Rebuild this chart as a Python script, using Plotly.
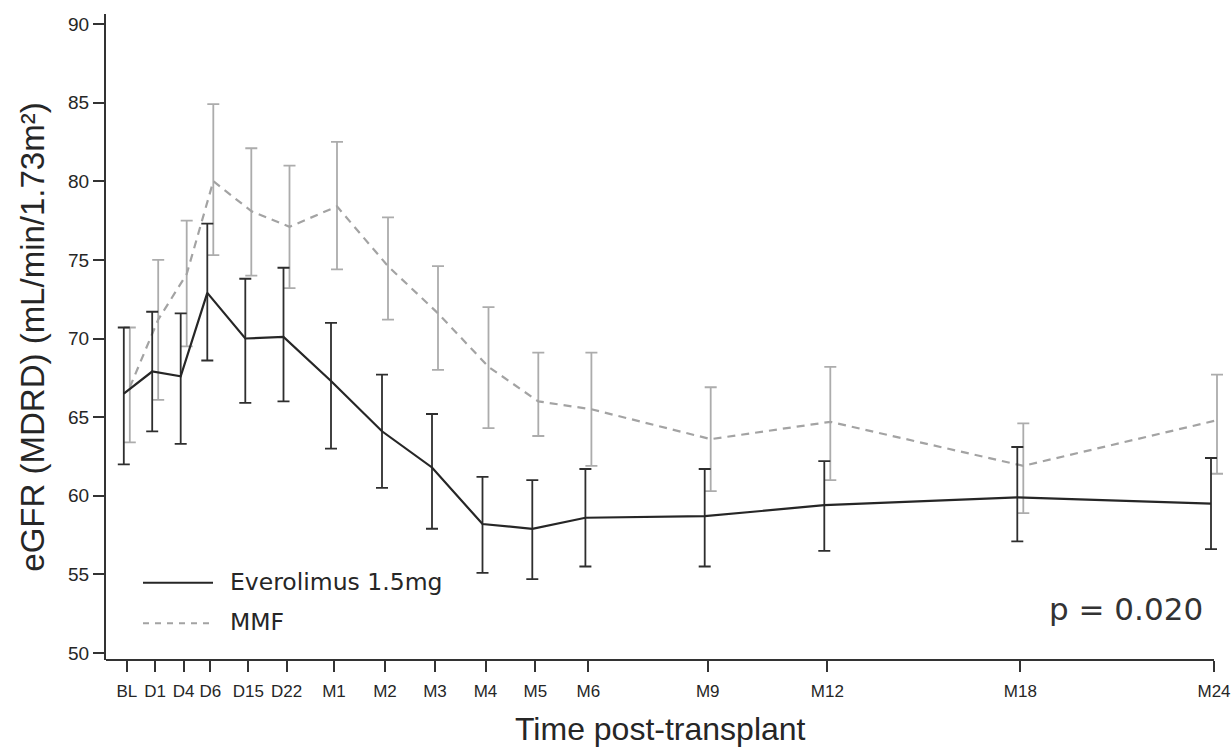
import plotly.graph_objects as go

# Visits on the time axis and their positions along it
visits = ["BL", "D1", "D4", "D6", "D15", "D22", "M1", "M2", "M3", "M4",
          "M5", "M6", "M9", "M12", "M18", "M24"]
visit_pos = [20.8, 49.2, 77.7, 104.3, 142.3, 180.5, 228, 279, 329, 379.5,
             429.3, 482.4, 601.7, 721.3, 914.3, 1108]

# Everolimus 1.5mg: mean eGFR with 95% CI bounds
evr_mean = [66.5, 67.9, 67.6, 72.9, 70.0, 70.1, 67.3, 64.1, 61.8, 58.2,
            57.9, 58.6, 58.7, 59.4, 59.9, 59.5]
evr_upper = [70.7, 71.7, 71.6, 77.3, 73.8, 74.5, 71.0, 67.7, 65.2, 61.2,
             61.0, 61.7, 61.7, 62.2, 63.1, 62.4]
evr_lower = [62.0, 64.1, 63.3, 68.6, 65.9, 66.0, 63.0, 60.5, 57.9, 55.1,
             54.7, 55.5, 55.5, 56.5, 57.1, 56.6]

# MMF: mean eGFR with 95% CI bounds
mmf_mean = [66.9, 71.2, 74.1, 80.0, 78.1, 77.1, 78.4, 74.6, 71.6, 68.2,
            66.0, 65.5, 63.6, 64.7, 61.9, 64.8]
mmf_upper = [70.7, 75.0, 77.5, 84.9, 82.1, 81.0, 82.5, 77.7, 74.6, 72.0,
             69.1, 69.1, 66.9, 68.2, 64.6, 67.7]
mmf_lower = [63.4, 66.1, 69.5, 75.3, 74.0, 73.2, 74.4, 71.2, 68.0, 64.3,
             63.8, 61.9, 60.3, 61.0, 58.9, 61.4]

p_text = "p = 0.020"
series_names = ["Everolimus 1.5mg", "MMF"]
x_title = "Time post-transplant"
y_title = "eGFR (MDRD) (mL/min/1.73m²)"

FONT = "Arial, 'Liberation Sans', Helvetica, sans-serif"
WIDE = "'DejaVu Sans', Arial, sans-serif"
DARK = "#262626"
GREY = "#a3a3a3"
AXIS = "#333333"
SHIFT = 3  # small horizontal dodge between the two groups
X_END = visit_pos[-1]   # the time axis line stops at the last visit
X_MAX = X_END + 14      # a little room on the right for the last bars

def err(mean, hi, lo):
    return dict(type="data", symmetric=False,
                array=[h - m for h, m in zip(hi, mean)],
                arrayminus=[m - l for m, l in zip(mean, lo)])

fig = go.Figure()

fig.add_trace(go.Scatter(
    x=[p + SHIFT for p in visit_pos], y=mmf_mean, mode="lines",
    name=series_names[1],
    line=dict(color=GREY, width=2.2, dash="8px,6px"),
    error_y=dict(**err(mmf_mean, mmf_upper, mmf_lower),
                 color="#acacac", thickness=1.8, width=6),
))
fig.add_trace(go.Scatter(
    x=[p - SHIFT for p in visit_pos], y=evr_mean, mode="lines",
    name=series_names[0],
    line=dict(color=DARK, width=2.2),
    error_y=dict(**err(evr_mean, evr_upper, evr_lower),
                 color="#2e2e2e", thickness=1.8, width=6),
))

# Plot box in pixels
L, T, H = 106, 14, 646
W = X_MAX
px = lambda v: (v - L) / W
py = lambda v: (T + H - v) / H

shapes = [
    # time axis line, ending at the last visit tick
    dict(type="line", xref="x", yref="paper", x0=-1, x1=X_END, y0=0, y1=0,
         line=dict(color=AXIS, width=2)),
    # legend samples
    dict(type="line", xref="paper", yref="paper", x0=px(143), x1=px(213),
         y0=py(582.7), y1=py(582.7), line=dict(color=DARK, width=2)),
    dict(type="line", xref="paper", yref="paper", x0=px(143), x1=px(213),
         y0=py(623.3), y1=py(623.3), line=dict(color=GREY, width=2, dash="6px,6px")),
]
annotations = [
    dict(xref="paper", yref="paper", x=px(228), y=py(582), xanchor="left",
         yanchor="middle", text=series_names[0], showarrow=False,
         font=dict(family=WIDE, size=23.5, color=DARK)),
    dict(xref="paper", yref="paper", x=px(228), y=py(622), xanchor="left",
         yanchor="middle", text=series_names[1], showarrow=False,
         font=dict(family=WIDE, size=23.5, color=DARK)),
    dict(xref="paper", yref="paper", x=px(1205), y=py(609), xanchor="right",
         yanchor="middle", text=p_text, showarrow=False,
         font=dict(family=WIDE, size=31, color="#333333")),
    # time axis title, centred under the span of the axis line
    dict(xref="paper", yref="paper", x=px(L + X_END / 2), y=py(729),
         xanchor="center", yanchor="middle", text=x_title, showarrow=False,
         font=dict(family=FONT, size=32, color=DARK)),
]

fig.update_layout(
    width=1232, height=747,
    margin=dict(l=L, r=1232 - L - W, t=T, b=747 - T - H, pad=0),
    paper_bgcolor="white", plot_bgcolor="white",
    showlegend=False,
    font=dict(family=FONT, color=DARK),
    shapes=shapes, annotations=annotations,
    xaxis=dict(
        range=[0, X_MAX], tickmode="array", tickvals=visit_pos, ticktext=visits,
        showgrid=False, zeroline=False, showline=False,
        ticks="outside", ticklen=11, tickwidth=2, tickcolor=AXIS,
        ticklabelstandoff=5,
        tickfont=dict(family=FONT, size=17, color=DARK), automargin=False,
    ),
    yaxis=dict(
        range=[49.555, 90.636], tickmode="array",
        tickvals=[50, 55, 60, 65, 70, 75, 80, 85, 90],
        showgrid=False, zeroline=False, showline=True, linecolor=AXIS,
        linewidth=2, ticks="outside", ticklen=11, tickwidth=2, tickcolor=AXIS,
        tickfont=dict(family=FONT, size=19, color=DARK), automargin=False,
        title=dict(text=y_title, standoff=14,
                   font=dict(family=FONT, size=33, color=DARK)),
    ),
)

fig.write_html("out.html")
